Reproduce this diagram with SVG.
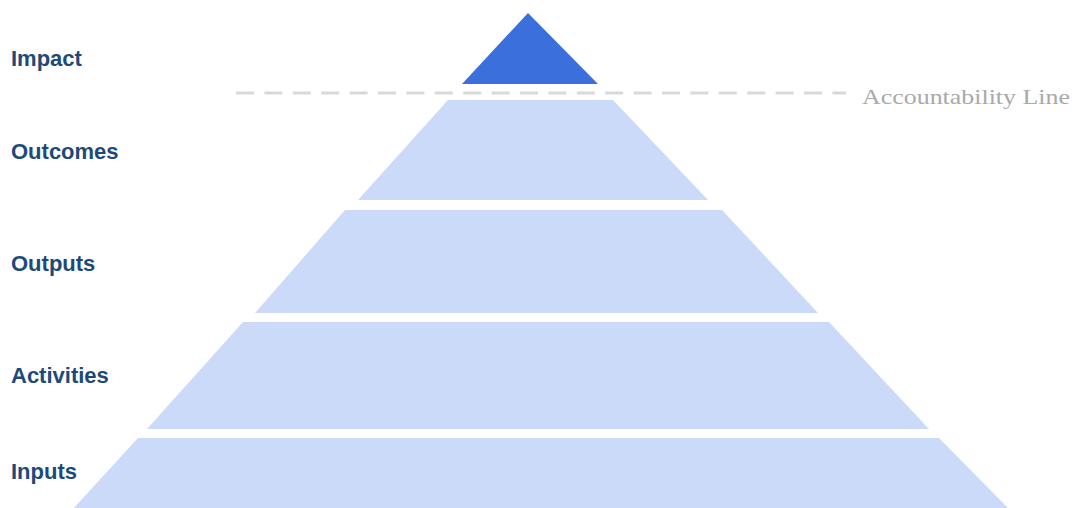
<svg xmlns="http://www.w3.org/2000/svg" width="1075" height="508" viewBox="0 0 1075 508">
  <style>
    .lbl { font-family: "Liberation Sans", Arial, sans-serif; font-weight: bold; font-size: 22px; fill: #1d4a7a; }
    .tier { fill: #cadaf8; }
    .top { fill: #3b6fdb; }
    .acc { font-family: "Liberation Serif", "Times New Roman", serif; font-size: 22px; fill: #a9a9a9; }
  </style>
  <rect width="1075" height="508" fill="#ffffff"/>
  <g id="connectors">
    <line x1="236" y1="93" x2="846" y2="93" stroke="#d9d9d9" stroke-width="3" stroke-dasharray="18 10.4"/>
  </g>
  <g id="impact">
    <polygon class="top" points="528,13 598,84 462,84"/>
    <text class="lbl" x="11" y="66">Impact</text>
  </g>
  <g id="outcomes">
    <polygon class="tier" points="448,100 613,100 708,200 358,200"/>
    <text class="lbl" x="11" y="159">Outcomes</text>
  </g>
  <g id="outputs">
    <polygon class="tier" points="345,210 722,210 818,313 255,313"/>
    <text class="lbl" x="11" y="271">Outputs</text>
  </g>
  <g id="activities">
    <polygon class="tier" points="243,322 829,322 929,429 147,429"/>
    <text class="lbl" x="11" y="383">Activities</text>
  </g>
  <g id="inputs">
    <polygon class="tier" points="138,438 939,438 1010,510 72,510"/>
    <text class="lbl" x="11" y="479">Inputs</text>
  </g>
  <g id="accountability-line">
    <text class="acc" x="862" y="104" textLength="208" lengthAdjust="spacingAndGlyphs">Accountability Line</text>
  </g>
</svg>
